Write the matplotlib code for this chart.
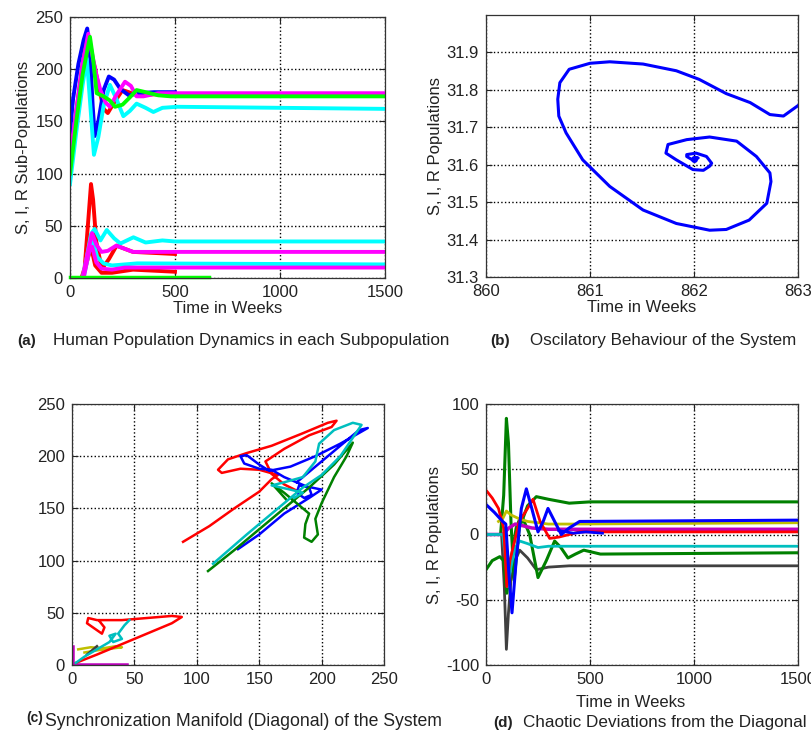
import numpy as np
import matplotlib
matplotlib.use('Agg')
import matplotlib.pyplot as plt

plt.rcParams['font.family'] = ['Liberation Sans', 'DejaVu Sans']
plt.rcParams['axes.unicode_minus'] = False

W, H = 812.0, 735.0

########################################################################################
# (a) Human population dynamics, S (upper group) and I, R (lower group)
a_blue_S_t = [0, 15, 40, 65, 82, 95, 108, 118, 135, 160, 185, 210, 240, 280, 330, 400, 500]
a_blue_S = [140, 172, 205, 228, 239, 215, 165, 136, 150, 180, 193, 190, 181, 175, 177, 178, 178]
a_red_S_t = [0, 30, 60, 85, 100, 118, 135, 160, 180, 210, 250, 280, 320, 400, 480]
a_red_S = [110, 160, 205, 232, 215, 202, 185, 162, 158, 168, 180, 178, 175, 176, 175]
a_cyan_S_t = [0, 30, 60, 80, 95, 114, 135, 160, 190, 220, 254, 285, 317, 360, 397, 440, 510, 1500]
a_cyan_S = [90, 140, 185, 210, 170, 118, 135, 165, 185, 172, 155, 160, 167, 163, 159, 163, 164, 162]
a_mag_S_t = [0, 30, 60, 87, 105, 125, 145, 170, 190, 220, 262, 290, 317, 350, 420, 1500]
a_mag_S = [115, 160, 205, 234, 215, 195, 180, 168, 164, 175, 188, 184, 174, 174, 177, 177]
a_green_S_t = [0, 30, 60, 95, 110, 127, 160, 190, 214, 250, 285, 317, 360, 420, 480, 1500]
a_green_S = [100, 150, 195, 231, 210, 177, 174, 170, 164, 166, 173, 180, 178, 175, 174, 174]

a_red_I_t = [0, 55, 70, 85, 100, 110, 125, 145, 160, 185, 222, 260, 300, 400, 500]
a_red_I = [0, 0, 10, 50, 90, 75, 35, 15, 11, 18, 31, 28, 25, 24, 23]
a_red_R_t = [0, 60, 80, 100, 120, 150, 200, 300, 400, 500]
a_red_R = [0, 0, 15, 30, 12, 5, 5, 8, 7, 6]
a_cyan_I_t = [0, 60, 80, 100, 117, 145, 175, 210, 240, 302, 360, 440, 500, 1500]
a_cyan_I = [0, 0, 20, 42, 47, 36, 46, 38, 33, 39, 34, 36, 35, 35]
a_cyan_R_t = [0, 65, 90, 110, 130, 160, 200, 260, 320, 1500]
a_cyan_R = [0, 0, 25, 35, 20, 14, 12, 13, 14, 13]
a_mag_I_t = [0, 60, 80, 105, 125, 150, 180, 220, 260, 300, 350, 1500]
a_mag_I = [0, 0, 20, 43, 32, 25, 26, 31, 28, 25, 25, 25]
a_mag_R_t = [0, 65, 90, 105, 125, 150, 200, 260, 1500]
a_mag_R = [0, 0, 25, 30, 15, 9, 8, 10, 10]
a_green_0_t = [0, 660]
a_green_0 = [0.5, 0.5]

# (b) spiral near the equilibrium
b_x = [863.0, 862.86, 862.73, 862.54, 862.31, 862.05, 861.83, 861.51, 861.19, 861.0, 860.80,
       860.71, 860.69, 860.70, 860.77, 860.93, 861.19, 861.51, 861.83, 862.15, 862.31, 862.53,
       862.70, 862.74, 862.73, 862.60, 862.41, 862.15, 861.93, 861.75, 861.73, 861.83, 861.99,
       862.09, 862.15, 862.17, 862.12, 862.02, 861.93, 861.93, 861.99, 862.04, 862.01, 862.0]
b_y = [31.758, 31.730, 31.734, 31.766, 31.790, 31.828, 31.851, 31.869, 31.875, 31.871, 31.855,
       31.819, 31.775, 31.730, 31.685, 31.613, 31.542, 31.479, 31.443, 31.425, 31.427, 31.452,
       31.497, 31.555, 31.578, 31.622, 31.663, 31.674, 31.667, 31.654, 31.631, 31.613, 31.587,
       31.585, 31.596, 31.604, 31.622, 31.631, 31.627, 31.622, 31.612, 31.618, 31.620, 31.615]

# (c) synchronization manifold
c_red_x = [89, 110, 130, 150, 160, 165, 150, 135, 120, 117, 125, 140, 160, 185, 205, 212, 208,
           190, 170, 155, 160, 170, 180]
c_red_y = [118, 133, 150, 166, 178, 182, 187, 188, 184, 187, 197, 203, 210, 222, 232, 234, 228,
           220, 207, 195, 183, 173, 167]
c_red2_x = [3, 20, 40, 60, 80, 88, 80, 60, 40, 20, 13, 12, 18, 24, 26, 22]
c_red2_y = [2, 10, 20, 30, 40, 46, 47, 45, 43, 43, 45, 40, 35, 30, 36, 42]
c_blue_x = [133, 150, 170, 190, 200, 192, 182, 180, 186, 192, 190, 170, 160, 150, 138, 135, 140,
            150, 158, 175, 195, 215, 237, 230, 215, 195, 180]
c_blue_y = [111, 125, 145, 160, 168, 170, 172, 165, 160, 163, 170, 180, 187, 188, 193, 200, 201,
            192, 186, 190, 200, 212, 227, 225, 210, 190, 175]
c_green_x = [109, 130, 155, 175, 190, 210, 225, 220, 210, 200, 195, 197, 192, 186, 187, 190,
             180, 170, 160, 172]
c_green_y = [90, 110, 135, 155, 170, 192, 213, 200, 180, 155, 140, 125, 118, 122, 135, 145,
             155, 165, 174, 158]
c_cyan_x = [113, 140, 165, 185, 200, 215, 232, 225, 210, 198, 195, 185, 170, 160, 175, 185, 178]
c_cyan_y = [97, 125, 150, 170, 182, 200, 230, 232, 225, 212, 195, 180, 175, 172, 168, 165, 160]
c_cyan2_x = [3, 10, 20, 30, 35, 30, 33, 40, 37, 42, 46]
c_cyan2_y = [2, 8, 15, 22, 30, 28, 22, 25, 30, 38, 43]
c_olive_x = [5, 15, 25, 35, 40, 20, 10]
c_olive_y = [15, 17, 16, 18, 17, 14, 12]
c_gray_x = [12, 16, 20]
c_gray_y = [10, 14, 18]
c_mag_x = [1, 1, 1, 44]
c_mag_y = [18, 0.5, 0.5, 0.5]

# (d) deviations from the diagonal
d_gray_t = [0, 75, 88, 98, 108, 120, 140, 162, 200, 242, 300, 400, 1500]
d_gray = [0, 0, -40, -88, -60, -35, -20, -12, -18, -27, -25, -24, -24]
d_green1_t = [0, 70, 85, 98, 108, 120, 135, 160, 200, 242, 300, 400, 500, 1500]
d_green1 = [0, 0, 30, 89, 70, 10, -35, 5, 22, 29, 27, 24, 25, 25]
d_green2_t = [0, 30, 66, 85, 100, 120, 145, 170, 210, 250, 290, 330, 360, 394, 430, 470, 550, 1500]
d_green2 = [-27, -20, -17, -20, -45, -20, 5, 15, 0, -33, -20, -5, -10, -18, -15, -12, -15, -14]
d_olive_t = [60, 80, 98, 120, 160, 200, 250, 300, 400, 1500]
d_olive = [10, 12, 18, 15, 12, 10, 9, 8, 8, 9]
d_mag_t = [0, 80, 110, 140, 170, 220, 300, 1500]
d_mag = [0, 0, 5, 8, 7, 5, 4, 4]
d_cyan_t = [0, 80, 95, 105, 120, 140, 162, 200, 250, 300, 1500]
d_cyan = [0, 0, -20, -40, -25, -10, -5, -7, -10, -9, -9]
d_red_t = [0, 30, 60, 85, 100, 115, 130, 160, 200, 226, 260, 306, 350, 400, 450, 1500]
d_red = [34, 28, 20, 5, -40, -20, -10, 10, 20, 27, 10, -3, -2, 0, 2, 2]
d_blue_t = [0, 40, 80, 95, 110, 125, 145, 170, 194, 220, 250, 275, 298, 330, 362, 400, 450, 1500]
d_blue = [23, 17, 10, 8, -30, -60, -20, 20, 35, 20, 2, 10, 20, 10, 0, 5, 10, 11]
d_blue2_t = [350, 420, 480, 560]
d_blue2 = [3, 1, 2, 1]
########################################################################################

txtc = '#222222'
# MATLAB colours
c_g_bright = '#00ff00'
c_c_bright = '#00ffff'
c_m_bright = '#ff00ff'
c_g_dark = (0, 0.5, 0)
c_c_dark = (0, 0.75, 0.75)
c_m_dark = (0.75, 0, 0.75)
c_olive = (0.75, 0.75, 0)
c_gray = (0.25, 0.25, 0.25)

def px_axes(fig, left, top, right, bottom):
    return fig.add_axes([left / W, 1 - bottom / H, (right - left) / W, (bottom - top) / H])

def style(ax):
    ax.grid(True, color='black', linestyle=':', linewidth=1.0)
    ax.tick_params(direction='in', top=True, right=True, length=4, labelsize=12,
                   colors=txtc, pad=5)
    for s in ax.spines.values():
        s.set_color('#333333')
        s.set_linewidth(0.9)

fig = plt.figure(figsize=(W / 100, H / 100), dpi=100)

# (a)
ax = px_axes(fig, 70, 17, 385, 278)
lw = 2.8
ax.plot(a_red_S_t, a_red_S, '-', color='r', lw=lw)
ax.plot(a_blue_S_t, a_blue_S, '-', color='b', lw=lw)
ax.plot(a_cyan_S_t, a_cyan_S, '-', color=c_c_bright, lw=lw)
ax.plot(a_mag_S_t, a_mag_S, '-', color=c_m_bright, lw=lw)
ax.plot(a_green_S_t, a_green_S, '-', color=c_g_bright, lw=lw)
ax.plot(a_red_R_t, a_red_R, '-', color='r', lw=lw)
ax.plot(a_red_I_t, a_red_I, '-', color='r', lw=lw)
ax.plot(a_cyan_I_t, a_cyan_I, '-', color=c_c_bright, lw=lw)
ax.plot(a_cyan_R_t, a_cyan_R, '-', color=c_c_bright, lw=lw)
ax.plot(a_mag_I_t, a_mag_I, '-', color=c_m_bright, lw=lw)
ax.plot(a_mag_R_t, a_mag_R, '-', color=c_m_bright, lw=lw)
ax.plot(a_green_0_t, a_green_0, '-', color=c_g_bright, lw=2.5, clip_on=False)
ax.set_xlim(0, 1500)
ax.set_ylim(0, 250)
ax.set_xticks([0, 500, 1000, 1500])
ax.set_yticks([0, 50, 100, 150, 200, 250])
style(ax)
ax.set_ylabel('S, I, R Sub-Populations', fontsize=12, color=txtc, labelpad=3)
ax.set_xlabel('Time in Weeks', fontsize=12, color=txtc, labelpad=1)

# (b)
ax = px_axes(fig, 486, 15, 798, 277)
ax.plot(b_x, b_y, '-', color='b', lw=2.2)
ax.plot([b_x[-1]], [b_y[-1]], 'o', color='b', ms=4)
ax.set_xlim(860, 863)
ax.set_ylim(31.3, 32.0)
ax.set_xticks([860, 861, 862, 863])
ax.set_yticks([31.3, 31.4, 31.5, 31.6, 31.7, 31.8, 31.9])
style(ax)
ax.set_ylabel('S, I, R Populations', fontsize=12, color=txtc, labelpad=3)
ax.set_xlabel('Time in Weeks', fontsize=12, color=txtc, labelpad=1)

# (c)
ax = px_axes(fig, 72, 404, 384, 665)
ax.plot(c_mag_x, c_mag_y, '-', color=c_m_dark, lw=1.8)
ax.plot(c_olive_x, c_olive_y, '-', color=c_olive, lw=1.8)
ax.plot(c_gray_x, c_gray_y, '-', color=c_gray, lw=1.8)
ax.plot(c_red_x, c_red_y, '-', color='r', lw=1.8)
ax.plot(c_red2_x, c_red2_y, '-', color='r', lw=1.8)
ax.plot(c_blue_x, c_blue_y, '-', color='b', lw=1.8)
ax.plot(c_green_x, c_green_y, '-', color=c_g_dark, lw=1.8)
ax.plot(c_cyan_x, c_cyan_y, '-', color=c_c_dark, lw=1.8)
ax.plot(c_cyan2_x, c_cyan2_y, '-', color=c_c_dark, lw=1.8)
ax.set_xlim(0, 250)
ax.set_ylim(0, 250)
ax.set_xticks([0, 50, 100, 150, 200, 250])
ax.set_yticks([0, 50, 100, 150, 200, 250])
style(ax)

# (d)
ax = px_axes(fig, 486, 404, 798, 665)
ax.plot(d_gray_t, d_gray, '-', color=c_gray, lw=2.0)
ax.plot(d_green1_t, d_green1, '-', color=c_g_dark, lw=2.2)
ax.plot(d_green2_t, d_green2, '-', color=c_g_dark, lw=2.2)
ax.plot(d_olive_t, d_olive, '-', color=c_olive, lw=2.0)
ax.plot(d_mag_t, d_mag, '-', color=c_m_dark, lw=2.5)
ax.plot(d_cyan_t, d_cyan, '-', color=c_c_dark, lw=2.0)
ax.plot(d_red_t, d_red, '-', color='r', lw=2.0)
ax.plot(d_blue_t, d_blue, '-', color='b', lw=2.2)
ax.plot(d_blue2_t, d_blue2, '-', color='b', lw=2.0)
ax.set_xlim(0, 1500)
ax.set_ylim(-100, 100)
ax.set_xticks([0, 500, 1000, 1500])
ax.set_yticks([-100, -50, 0, 50, 100])
style(ax)
ax.set_ylabel('S, I, R Populations', fontsize=12, color=txtc, labelpad=3)
ax.set_xlabel('Time in Weeks', fontsize=12, color=txtc)
ax.xaxis.set_label_coords((631 - 486) / 312.0, -0.115)

# captions, each scaled so that it spans the same pixels as in the figure
renderer = fig.canvas.get_renderer()

def cap(x0, x1, y, s):
    t = fig.text(x0 / W, 1 - y / H, s, fontsize=12, color=txtc, va='center', ha='left')
    w = t.get_window_extent(renderer).width
    t.set_fontsize(12 * (x1 - x0) / w)

def tag(x, y, s, size=11):
    fig.text(x / W, 1 - y / H, s, fontsize=size, color=txtc, va='center', ha='left',
             fontweight='bold')

tag(17, 341, '(a)')
cap(53, 450, 340, 'Human Population Dynamics in each Subpopulation')
tag(490, 341, '(b)')
cap(530, 797, 340, 'Oscilatory Behaviour of the System')
tag(26, 718, '(c)', 10)
cap(45, 443, 722, 'Synchronization Manifold (Diagonal) of the System')
tag(493, 723, '(d)')
cap(523, 806, 722, 'Chaotic Deviations from the Diagonal')

fig.savefig('out.png', dpi=100)
